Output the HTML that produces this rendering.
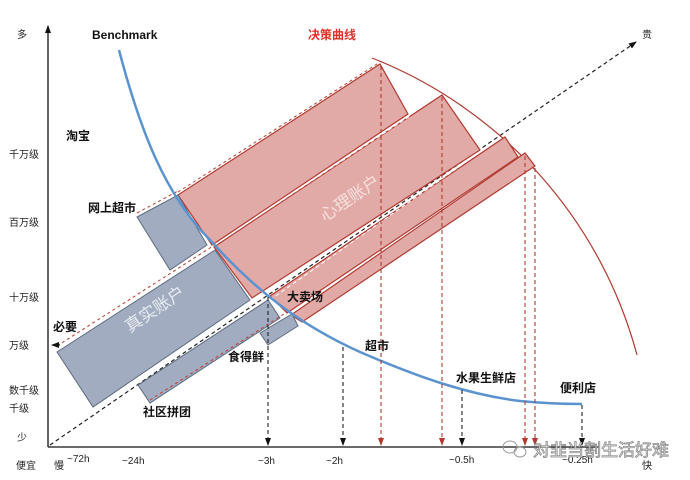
<!DOCTYPE html>
<html><head><meta charset="utf-8"><style>
html,body{margin:0;padding:0;background:#fff}
svg{display:block}
text{font-family:"Liberation Sans","Noto Sans CJK SC",sans-serif;}
</style></head><body>
<svg width="690" height="480" viewBox="0 0 690 480" xmlns="http://www.w3.org/2000/svg">
<defs>
<marker id="ab" markerWidth="8" markerHeight="8" refX="7" refY="4" orient="auto" markerUnits="userSpaceOnUse"><path d="M0,1 L8,4 L0,7z" fill="#111"/></marker>
<marker id="ar" markerWidth="8" markerHeight="8" refX="7" refY="4" orient="auto" markerUnits="userSpaceOnUse"><path d="M0,1 L8,4 L0,7z" fill="#b03a30"/></marker>
</defs>
<!-- axes -->
<line x1="48" y1="447" x2="48" y2="26" stroke="#111" stroke-width="1.3" marker-end="url(#ab)"/>
<line x1="48" y1="447" x2="600" y2="447" stroke="#111" stroke-width="1.3"/>
<!-- diagonal -->
<line x1="50" y1="445" x2="636" y2="42" stroke="#222" stroke-width="1.2" stroke-dasharray="4,3" marker-end="url(#ab)"/>

<!-- red arc -->
<path d="M372,58 A442,442 0 0 1 637,355" fill="none" stroke="#b03a30" stroke-width="1.2"/>

<!-- pink rects -->
<g fill="#e2aaa7" stroke="#b03a30" stroke-width="1.2">
<polygon points="178,195 380,64 408,114 212,245"/>
<polygon points="214,247 442,95 480,150 252,298"/>
<polygon points="270,296 505,137 518,157 287,313"/>
<polygon points="291,315 525,153 535,166 302,322"/>
</g>
<g stroke="#fff" stroke-width="1" stroke-dasharray="4,3" fill="none">
<line x1="213" y1="246" x2="410" y2="116"/>
<line x1="270" y1="300" x2="480" y2="152"/>
</g>

<!-- blue rects -->
<g fill="#a1acc0" stroke="#5d6b80" stroke-width="1">
<polygon points="137,217 178,195 207,245 170,270"/>
<polygon points="57,352 215,250 250,300 93,407"/>
<polygon points="138,385 268,300 280,318 150,403"/>
<polygon points="260,333 292,314 298,326 268,345"/>
</g>
<g stroke="#c0392b" stroke-width="1" stroke-dasharray="3,3" fill="none">
<line x1="57" y1="346" x2="213" y2="246"/>
<line x1="150" y1="400" x2="290" y2="310"/>
<line x1="137" y1="213" x2="178" y2="191"/>
<line x1="178" y1="192" x2="380" y2="62"/>
</g>
<line x1="60" y1="345" x2="52" y2="345" stroke="#111" marker-end="url(#ab)"/>

<!-- blue benchmark curve -->
<path d="M119,50 C140,130 165,195 210,240 C255,290 300,325 360,352 C420,378 470,395 520,401 C550,404 570,404 582,404" fill="none" stroke="#5b93cf" stroke-width="2.5"/>

<!-- vertical drop lines -->
<g stroke="#b03a30" stroke-width="1.1" stroke-dasharray="4,3" fill="none">
<line x1="381" y1="66" x2="381" y2="445" marker-end="url(#ar)"/>
<line x1="442" y1="97" x2="442" y2="445" marker-end="url(#ar)"/>
<line x1="525" y1="156" x2="525" y2="445" marker-end="url(#ar)"/>
<line x1="535" y1="168" x2="535" y2="445" marker-end="url(#ar)"/>
</g>
<g stroke="#222" stroke-width="1.1" stroke-dasharray="4,3" fill="none">
<line x1="268" y1="297" x2="268" y2="445" marker-end="url(#ab)"/>
<line x1="343" y1="347" x2="343" y2="445" marker-end="url(#ab)"/>
<line x1="462" y1="390" x2="462" y2="445" marker-end="url(#ab)"/>
<line x1="582" y1="405" x2="582" y2="445" marker-end="url(#ab)"/>
</g>

<!-- axis labels -->
<g font-size="10" fill="#222">
<text x="17" y="38">多</text>
<text x="9" y="158">千万级</text>
<text x="9" y="226">百万级</text>
<text x="9" y="301">十万级</text>
<text x="9" y="349">万级</text>
<text x="9" y="394">数千级</text>
<text x="9" y="412">千级</text>
<text x="17" y="441">少</text>
<text x="16" y="469">便宜</text>
<text x="54" y="469">慢</text>
<text x="67" y="462">~72h</text>
<text x="122" y="464">~24h</text>
<text x="258" y="464">~3h</text>
<text x="326" y="464">~2h</text>
<text x="449" y="463">~0.5h</text>
<text x="562" y="463">~0.25h</text>
<text x="642" y="469">快</text>
<text x="642" y="38">贵</text>
</g>
<g font-size="12" font-weight="bold" fill="#111">
<text x="92" y="39">Benchmark</text>
<text x="66" y="140">淘宝</text>
<text x="88" y="212">网上超市</text>
<text x="53" y="331">必要</text>
<text x="287" y="301">大卖场</text>
<text x="228" y="361">食得鲜</text>
<text x="143" y="416">社区拼团</text>
<text x="365" y="350">超市</text>
<text x="456" y="382">水果生鲜店</text>
<text x="560" y="392">便利店</text>
</g>
<text x="308" y="39" font-size="12" font-weight="bold" fill="#e0302a">决策曲线</text>
<text x="0" y="0" font-size="17" fill="#e8ecf2" transform="translate(130,333) rotate(-34)">真实账户</text>
<text x="0" y="0" font-size="17" fill="#f6e0de" transform="translate(325,222) rotate(-34)">心理账户</text>

<!-- watermark -->
<g fill="none" stroke="#999" stroke-width="1">
<ellipse cx="510" cy="447" rx="7" ry="6"/>
<ellipse cx="520" cy="452" rx="6" ry="5"/>
</g>
<text x="533" y="456" font-size="17" fill="#fff" stroke="#888" stroke-width="0.8">对韭当割生活好难</text>
</svg>
</body></html>
